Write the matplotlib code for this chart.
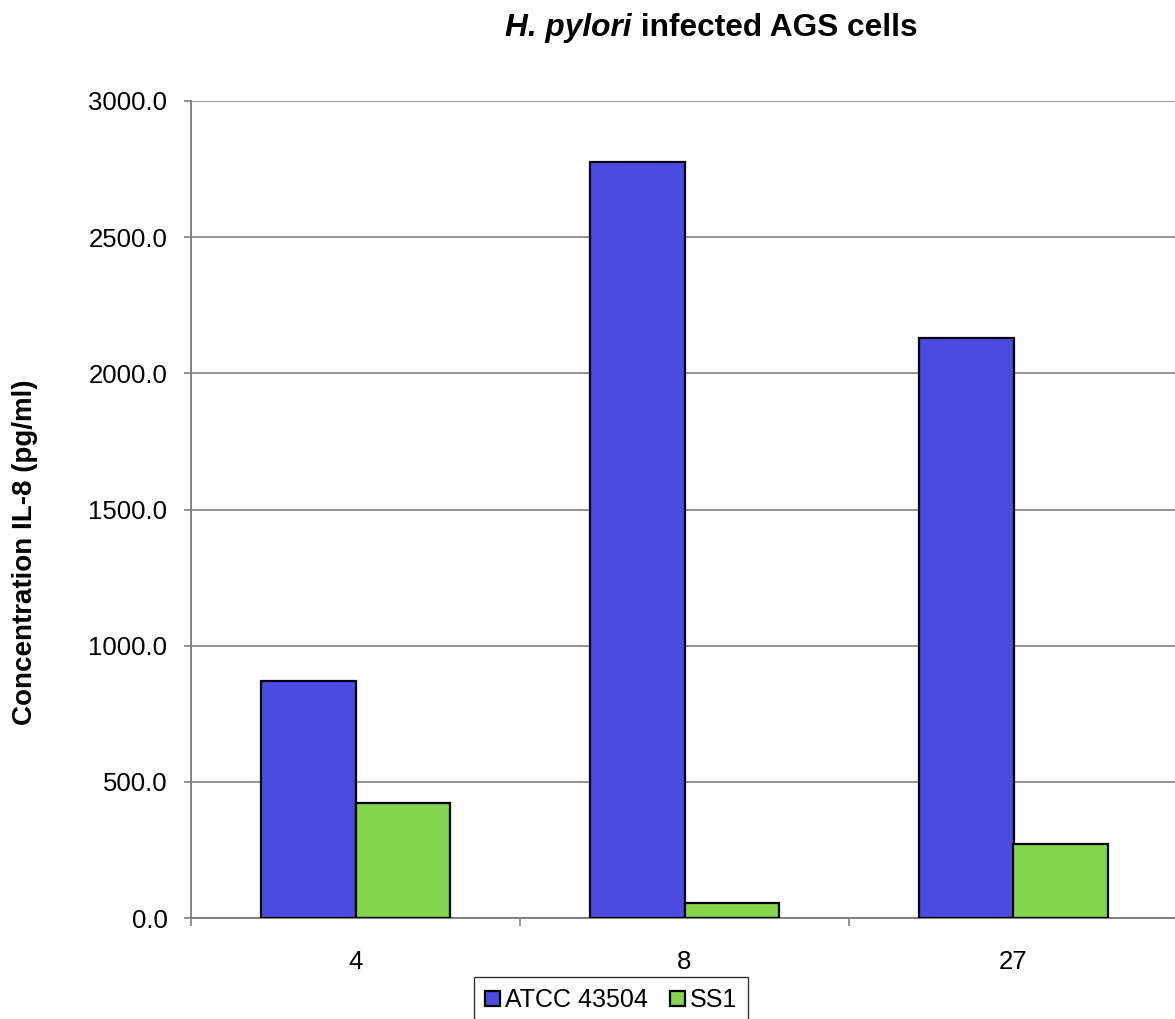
import numpy as np
import matplotlib
matplotlib.use("Agg")
import matplotlib.pyplot as plt
from matplotlib.patches import Patch

plt.rcParams['font.family'] = ['Liberation Sans', 'DejaVu Sans']

# IL-8 release per infection group
groups = ['4', '8', '27']
atcc = [870.0, 2776.0, 2130.0]
ss1 = [422.0, 55.0, 272.0]
series_names = ['ATCC 43504', 'SS1']
yticks = [0, 500, 1000, 1500, 2000, 2500, 3000]

blue = '#4A4BE1'
green = '#84D44C'
grey = '#808080'


def main():
    fig = plt.figure(figsize=(11.75, 10.19), dpi=100)
    ax = fig.add_axes([191 / 1175, 1 - 918 / 1019, 987 / 1175, 817 / 1019])

    x = np.arange(len(groups))
    w = 0.286
    ax.bar(x - w / 2, atcc, w, color=blue, edgecolor='black', linewidth=1.6, zorder=3)
    ax.bar(x + w / 2, ss1, w, color=green, edgecolor='black', linewidth=1.6, zorder=3)

    ax.set_xlim(-0.5, len(groups) - 0.5)
    ax.set_ylim(0, 3000)

    # y axis
    ax.set_yticks(yticks)
    ax.set_yticklabels([f'{v:.1f}' for v in yticks])
    ax.yaxis.grid(True, color=grey, linewidth=1.2, zorder=0)
    ax.tick_params(axis='y', length=5, width=1.2, color=grey, pad=12, labelsize=18.5)

    # x axis: labels at centers, tick marks between categories
    ax.set_xticks(x)
    ax.set_xticklabels(groups)
    ax.set_xticks(np.arange(len(groups) + 1) - 0.5, minor=True)
    ax.tick_params(axis='x', which='major', length=0, pad=23, labelsize=18.5)
    ax.tick_params(axis='x', which='minor', length=6, width=1.2, color=grey)

    for side in ['top', 'right']:
        ax.spines[side].set_visible(False)
    for side in ['left', 'bottom']:
        ax.spines[side].set_color(grey)
        ax.spines[side].set_linewidth(1.4)
    ax.set_axisbelow(True)

    ax.set_ylabel('Concentration IL-8 (pg/ml)', fontsize=20, fontweight='bold')
    ax.yaxis.set_label_coords(-0.155, 0.448)

    # title with italic species name
    ty = 1 - 36 / 1019
    t1 = fig.text(505 / 1175, ty, 'H. pylori', ha='left', va='baseline',
                  fontsize=22.8, fontweight='bold', fontstyle='italic')
    fig.canvas.draw()
    bb = t1.get_window_extent()
    fig.text(bb.x1 / fig.bbox.width, ty, ' infected AGS cells', ha='left', va='baseline',
             fontsize=22.8, fontweight='bold')

    handles = [Patch(facecolor=blue, edgecolor='black', linewidth=1.6),
               Patch(facecolor=green, edgecolor='black', linewidth=1.6)]
    leg = fig.legend(handles, series_names, loc='upper center',
                     bbox_to_anchor=(611 / 1175, 1 - 977 / 1019), ncol=2,
                     fontsize=18, frameon=True, fancybox=False,
                     handlelength=0.6, handleheight=0.6, handletextpad=0.18,
                     columnspacing=0.9, borderpad=0.45, borderaxespad=0)
    leg.get_frame().set_edgecolor('black')
    leg.get_frame().set_linewidth(1.0)

    fig.savefig('out.png', dpi=100)


if __name__ == "__main__":
    main()
